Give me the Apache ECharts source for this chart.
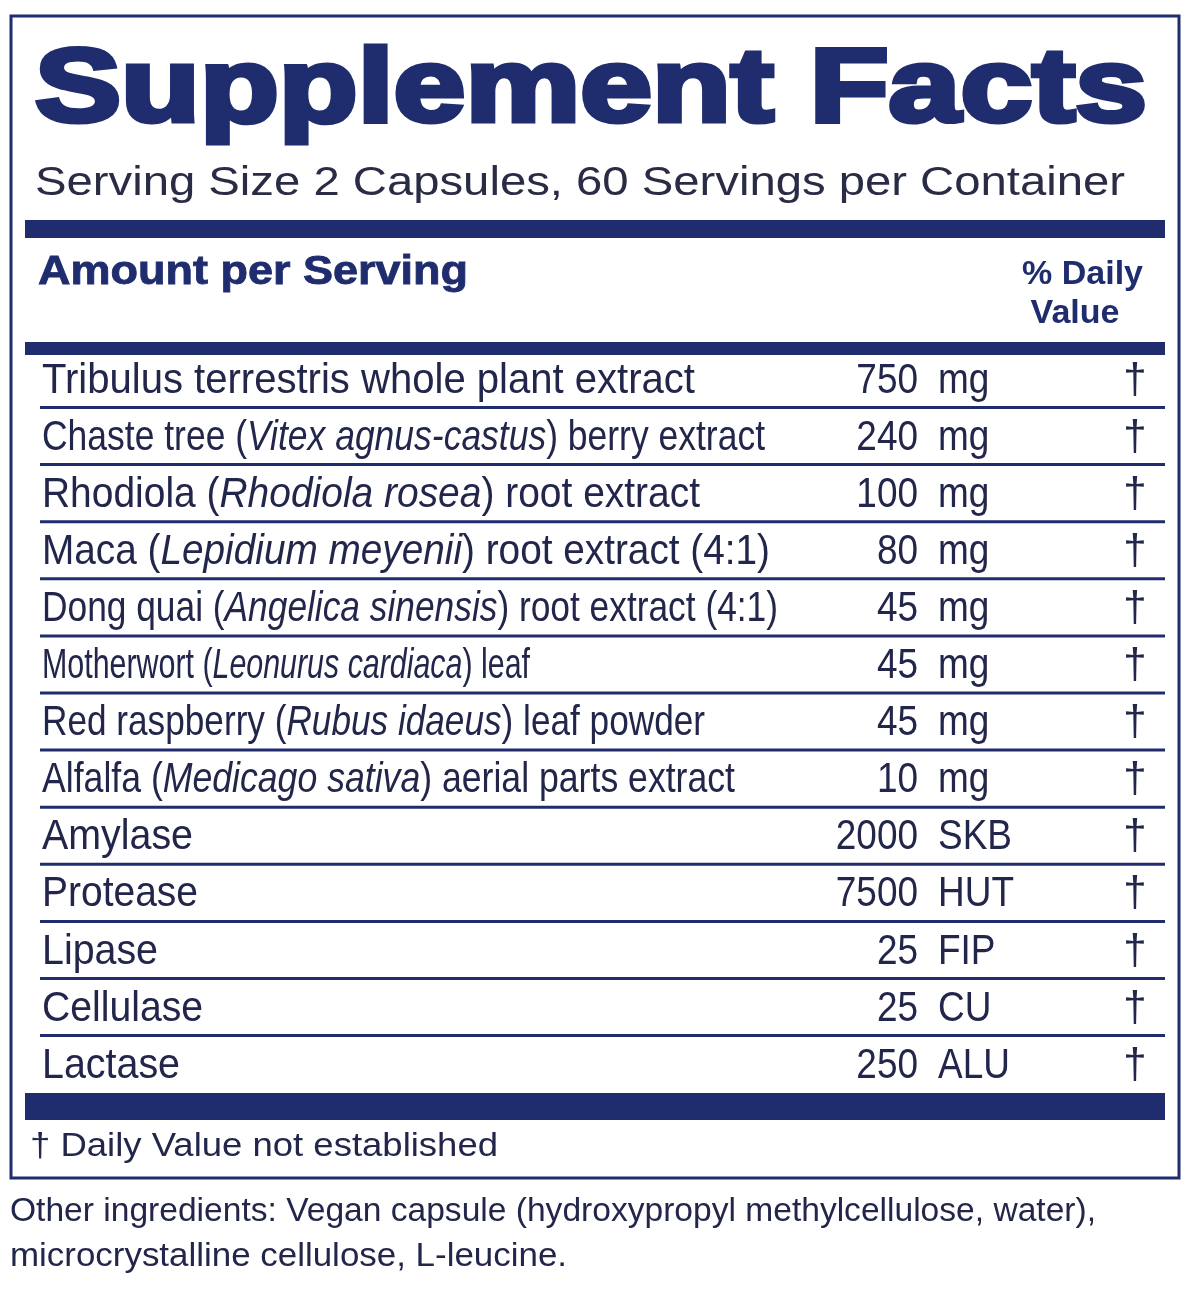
<!DOCTYPE html>
<html><head><meta charset="utf-8">
<script src="https://cdn.jsdelivr.net/npm/echarts@6/dist/echarts.min.js"></script>
<style>html,body{margin:0;padding:0;background:#fff}#c{width:1200px;height:1292px}</style>
</head><body><div id="c"></div>
<script>
const title = "Supplement Facts";
const serving = "Serving Size 2 Capsules, 60 Servings per Container";
const names = [
 ["Tribulus terrestris whole plant extract","",""],
 ["Chaste tree (","Vitex agnus-castus",") berry extract"],
 ["Rhodiola (","Rhodiola rosea",") root extract"],
 ["Maca (","Lepidium meyenii",") root extract (4:1)"],
 ["Dong quai (","Angelica sinensis",") root extract (4:1)"],
 ["Motherwort (","Leonurus cardiaca",") leaf"],
 ["Red raspberry (","Rubus idaeus",") leaf powder"],
 ["Alfalfa (","Medicago sativa",") aerial parts extract"],
 ["Amylase","",""],["Protease","",""],["Lipase","",""],["Cellulase","",""],["Lactase","",""]
];
const amounts = [750,240,100,80,45,45,45,10,2000,7500,25,25,250];
const units = ["mg","mg","mg","mg","mg","mg","mg","mg","SKB","HUT","FIP","CU","ALU"];
const footnote = "† Daily Value not established";
const other = ["Other ingredients: Vegan capsule (hydroxypropyl methylcellulose, water),","microcrystalline cellulose, L-leucine."];

const NAVY = "#1f2d6e", TXT = "#22264a", FONT = "Liberation Sans";
const nameWidths = [653,723,658,728,736,488,663,693,151,156,116,161,138];
const cv = document.createElement('canvas').getContext('2d');
function w(t, f){ cv.font = f; return cv.measureText(t).width; }
function fit(t, f, target){ return target / w(t, f); }

const g = [];
function rect(x,y,wd,h){ g.push({type:'rect',shape:{x,y,width:wd,height:h},style:{fill:NAVY}}); }
function text(t,x,y,opt){
  const o = Object.assign({size:40,weight:'normal',color:TXT,align:'left',sx:1,style:'normal'},opt||{});
  g.push({type:'text',x,y,scaleX:o.sx,originX:0,originY:0,style:{text:t,x:0,y:0,fill:o.color,
    stroke:o.stroke||null,lineWidth:o.lw||0,
    font:`${o.style} ${o.weight} ${o.size}px "${FONT}"`,align:o.align,verticalAlign:'middle',rich:o.rich}});
}
g.push({type:'rect',shape:{x:11,y:16,width:1168,height:1162},style:{fill:'none',stroke:NAVY,lineWidth:3}});
const tf = `bold 104px "${FONT}"`;
text(title,35,92,{size:104,weight:'bold',color:NAVY,sx:fit(title,tf,1112),stroke:NAVY,lw:5});
const sf = `normal 40px "${FONT}"`;
text(serving,35,184,{size:40,sx:fit(serving,sf,1090),color:"#2a2c45"});
rect(25,220,1140,18);
const af = `bold 40px "${FONT}"`;
text("Amount per Serving",38,273,{size:40,weight:'bold',color:NAVY,sx:fit("Amount per Serving",af,430),stroke:NAVY,lw:0.8});
text("% Daily",1143,275,{size:34,weight:'bold',color:NAVY,align:'right'});
text("Value",1075,314,{size:34,weight:'bold',color:NAVY,align:'center'});
rect(25,342,1140,13);
const rowF = `normal 42px "${FONT}"`;
names.forEach((n,i)=>{
  const y = 381 + i*57.1;
  const rich = {n:{font:`normal 42px "${FONT}"`,fill:TXT},i:{font:`italic 42px "${FONT}"`,fill:TXT}};
  let s = `{n|${n[0]}}`;
  if(n[1]) s += `{i|${n[1]}}{n|${n[2]}}`;
  cv.font = `normal 42px "${FONT}"`; let wd = cv.measureText(n[0]+n[2]).width;
  cv.font = `italic 42px "${FONT}"`; wd += cv.measureText(n[1]).width;
  text(s,42,y,{size:42,sx:nameWidths[i]/wd,rich});
  g.push({type:'text',x:918,y,scaleX:0.88,style:{text:String(amounts[i]),fill:TXT,font:rowF,align:'right',verticalAlign:'middle'}});
  text(units[i],938,y,{size:42,sx:0.88});
  text("†",1135,y,{size:42,align:'center'});
  if(i<names.length-1) rect(40,406+i*57.1,1125,3);
});
rect(25,1093,1140,27);
text(footnote,30,1147,{size:34,sx:fit(footnote,`normal 34px "${FONT}"`,468)});
text(other[0],10,1212,{size:34,sx:fit(other[0],`normal 34px "${FONT}"`,1086)});
text(other[1],10,1257,{size:34,sx:fit(other[1],`normal 34px "${FONT}"`,557)});

const chart = echarts.init(document.getElementById('c'));
chart.setOption({animation:false,graphic:g});
</script></body></html>
